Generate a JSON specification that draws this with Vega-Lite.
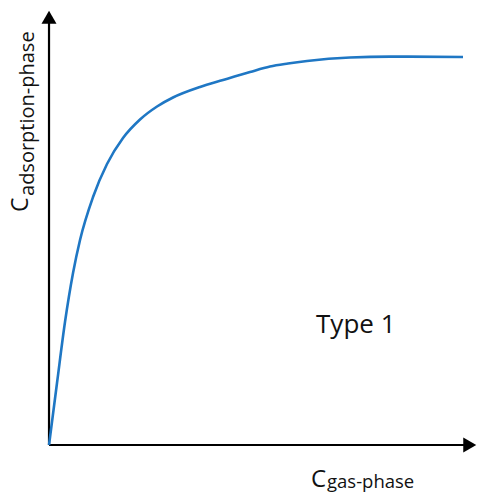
{
  "$schema": "https://vega.github.io/schema/vega-lite/v6.json",
  "width": 479,
  "height": 499,
  "autosize": {"type": "none"},
  "padding": 0,
  "background": "white",
  "config": {"view": {"stroke": null}},
  "datasets": {
    "isotherm": [
      {"c_gas": 0, "c_ads": 0},
      {"c_gas": 1.93, "c_ads": 15.98},
      {"c_gas": 3.86, "c_ads": 31.7},
      {"c_gas": 5.8, "c_ads": 44.33},
      {"c_gas": 7.49, "c_ads": 52.84},
      {"c_gas": 10.63, "c_ads": 63.92},
      {"c_gas": 14.01, "c_ads": 72.42},
      {"c_gas": 17.87, "c_ads": 79.12},
      {"c_gas": 21.98, "c_ads": 83.89},
      {"c_gas": 26.09, "c_ads": 87.24},
      {"c_gas": 29.95, "c_ads": 89.56},
      {"c_gas": 36.47, "c_ads": 92.27},
      {"c_gas": 42.03, "c_ads": 94.07},
      {"c_gas": 48.55, "c_ads": 96.13},
      {"c_gas": 53.38, "c_ads": 97.55},
      {"c_gas": 57.73, "c_ads": 98.32},
      {"c_gas": 62.32, "c_ads": 98.97},
      {"c_gas": 72.71, "c_ads": 99.87},
      {"c_gas": 82.37, "c_ads": 100.1},
      {"c_gas": 100, "c_ads": 100}
    ],
    "axes": [
      {"x": 0, "y": 0, "x2": 0, "y2": 110.25},
      {"x": 0, "y": 0, "x2": 101.63, "y2": 0}
    ],
    "arrows": [
      {"x": 0, "y": 110.25, "dir": "up"},
      {"x": 101.63, "y": 0, "dir": "right"}
    ],
    "labels": [
      {"x": 64.5, "y": 28.87, "text": "Type 1", "size": 26, "angle": 0},
      {"x": 63.3, "y": -10.82, "text": "C", "size": 24, "angle": 0},
      {"x": 67.15, "y": -11.08, "text": "gas-phase", "size": 18.5, "angle": 0},
      {"x": -5.07, "y": 60.05, "text": "C", "size": 23, "angle": 270},
      {"x": -3.74, "y": 64.18, "text": "adsorption-phase", "size": 20, "angle": 270}
    ]
  },
  "encoding": {
    "x": {"type": "quantitative", "scale": {"domain": [-11.84, 103.86], "nice": false, "zero": false}, "axis": null},
    "y": {"type": "quantitative", "scale": {"domain": [-13.92, 114.69], "nice": false, "zero": false}, "axis": null}
  },
  "layer": [
    {
      "data": {"name": "axes"},
      "mark": {"type": "rule", "color": "black", "strokeWidth": 2.2},
      "encoding": {
        "x": {"field": "x"},
        "y": {"field": "y"},
        "x2": {"field": "x2"},
        "y2": {"field": "y2"}
      }
    },
    {
      "data": {"name": "arrows"},
      "mark": {"type": "point", "filled": true, "opacity": 1, "color": "black", "size": 225},
      "encoding": {
        "x": {"field": "x"},
        "y": {"field": "y"},
        "shape": {"field": "dir", "type": "nominal", "scale": {"domain": ["up", "right"], "range": ["triangle-up", "triangle-right"]}, "legend": null}
      }
    },
    {
      "data": {"name": "isotherm"},
      "mark": {"type": "line", "color": "#1f77c4", "strokeWidth": 2.6, "interpolate": "monotone"},
      "encoding": {
        "x": {"field": "c_gas"},
        "y": {"field": "c_ads"}
      }
    },
    {
      "data": {"name": "labels"},
      "mark": {"type": "text", "font": "Open Sans", "color": "#111111", "align": "left", "baseline": "alphabetic"},
      "encoding": {
        "x": {"field": "x"},
        "y": {"field": "y"},
        "text": {"field": "text"},
        "size": {"field": "size", "type": "quantitative", "scale": null},
        "angle": {"field": "angle", "type": "quantitative", "scale": null}
      }
    }
  ]
}
